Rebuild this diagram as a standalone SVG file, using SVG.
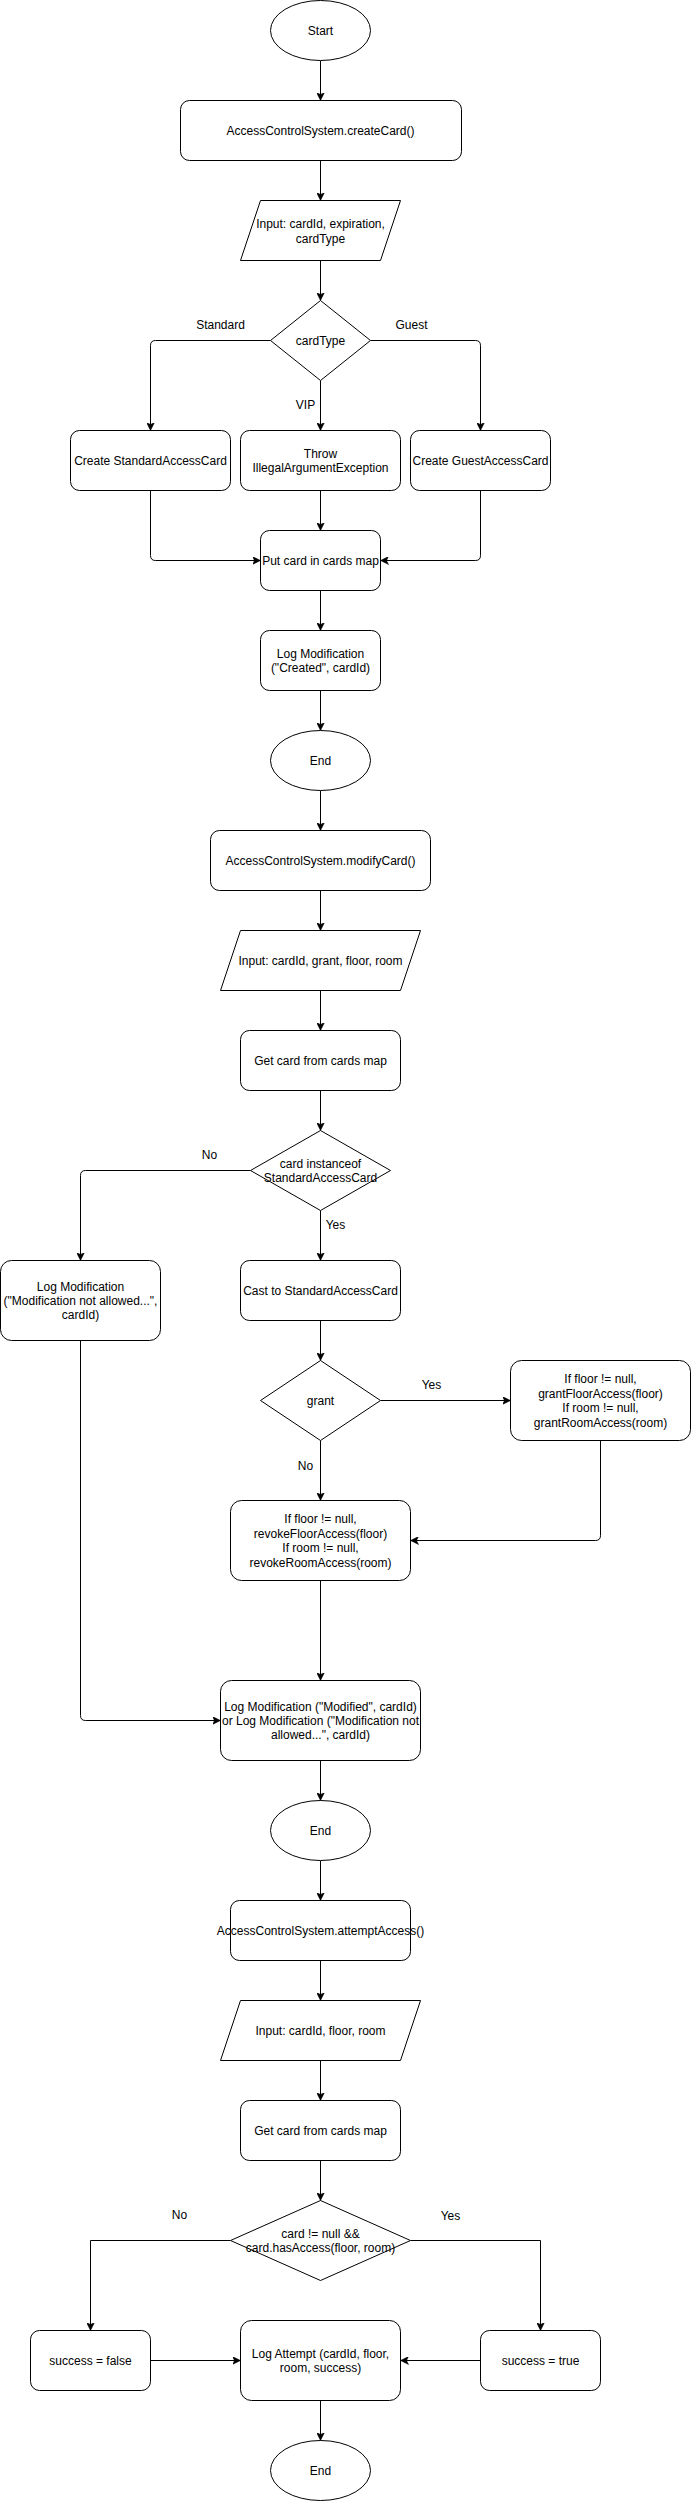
<svg xmlns="http://www.w3.org/2000/svg" width="692" height="2501" viewBox="0 0 692 2501">
<defs>
<style>
.n{fill:#fff;stroke:#000;stroke-width:1}
.e{fill:none;stroke:#000;stroke-width:1;marker-end:url(#arr)}
text{font-family:"Liberation Sans",Arial,Helvetica,sans-serif;font-size:12px;fill:#000;text-anchor:middle}
</style>
<marker id="arr" markerUnits="userSpaceOnUse" viewBox="0 0 8 8" refX="8" refY="4" markerWidth="8" markerHeight="8" orient="auto">
<path d="M0,0 L8,4 L0,8 L2,4 Z" fill="#000" stroke="#000" stroke-width="0.5"/>
</marker>
</defs>
<rect x="0" y="0" width="692" height="2501" fill="#fff"/>
<g transform="translate(0.5,0.5)">
<g id="connectors">
<path class="e" d="M320,60 L320,100"/>
<path class="e" d="M320,160 L320,200"/>
<path class="e" d="M320,260 L320,300"/>
<path class="e" d="M270,340 L155,340 Q150,340 150,345 L150,430"/>
<path class="e" d="M320,380 L320,430"/>
<path class="e" d="M370,340 L475,340 Q480,340 480,345 L480,430"/>
<path class="e" d="M150,490 L150,555 Q150,560 155,560 L260,560"/>
<path class="e" d="M320,490 L320,530"/>
<path class="e" d="M480,490 L480,555 Q480,560 475,560 L380,560"/>
<path class="e" d="M320,590 L320,630"/>
<path class="e" d="M320,690 L320,730"/>
<path class="e" d="M320,790 L320,830"/>
<path class="e" d="M320,890 L320,930"/>
<path class="e" d="M320,990 L320,1030"/>
<path class="e" d="M320,1090 L320,1130"/>
<path class="e" d="M250,1170 L85,1170 Q80,1170 80,1175 L80,1260"/>
<path class="e" d="M320,1210 L320,1260"/>
<path class="e" d="M320,1320 L320,1360"/>
<path class="e" d="M380,1400 L510,1400"/>
<path class="e" d="M320,1440 L320,1500"/>
<path class="e" d="M600,1440 L600,1535 Q600,1540 595,1540 L410,1540"/>
<path class="e" d="M320,1580 L320,1680"/>
<path class="e" d="M80,1340 L80,1715 Q80,1720 85,1720 L220,1720"/>
<path class="e" d="M320,1760 L320,1800"/>
<path class="e" d="M320,1860 L320,1900"/>
<path class="e" d="M320,1960 L320,2000"/>
<path class="e" d="M320,2060 L320,2100"/>
<path class="e" d="M320,2160 L320,2200"/>
<path class="e" d="M230,2240 L90,2240 L90,2330"/>
<path class="e" d="M410,2240 L540,2240 L540,2330"/>
<path class="e" d="M150,2360 L240,2360"/>
<path class="e" d="M480,2360 L400,2360"/>
<path class="e" d="M320,2400 L320,2440"/>
<text x="220" y="328">Standard</text>
<text x="411" y="328">Guest</text>
<text x="305" y="408">VIP</text>
<text x="209" y="1158">No</text>
<text x="335" y="1228">Yes</text>
<text x="431" y="1388">Yes</text>
<text x="305" y="1469">No</text>
<text x="179" y="2218">No</text>
<text x="450" y="2219">Yes</text>
</g>
<g id="start"><ellipse class="n" cx="320" cy="30" rx="50" ry="30"/><text x="320" y="34">Start</text></g>
<g id="createCard"><rect class="n" x="180" y="100" width="281" height="60" rx="9"/><text x="320" y="134">AccessControlSystem.createCard()</text></g>
<g id="input1"><path class="n" d="M260,200 L400,200 L380,260 L240,260 Z"/><text x="320" y="227">Input: cardId, expiration,</text><text x="320" y="242">cardType</text></g>
<g id="cardType"><path class="n" d="M320,300 L370,340 L320,380 L270,340 Z"/><text x="320" y="344">cardType</text></g>
<g id="createStandard"><rect class="n" x="70" y="430" width="160" height="60" rx="9"/><text x="150" y="464">Create StandardAccessCard</text></g>
<g id="throw"><rect class="n" x="240" y="430" width="160" height="60" rx="9"/><text x="320" y="457">Throw</text><text x="320" y="471">IllegalArgumentException</text></g>
<g id="createGuest"><rect class="n" x="410" y="430" width="140" height="60" rx="9"/><text x="480" y="464">Create GuestAccessCard</text></g>
<g id="putCard"><rect class="n" x="260" y="530" width="120" height="60" rx="9"/><text x="320" y="564">Put card in cards map</text></g>
<g id="logCreated"><rect class="n" x="260" y="630" width="120" height="60" rx="9"/><text x="320" y="657">Log Modification</text><text x="320" y="671">("Created", cardId)</text></g>
<g id="end1"><ellipse class="n" cx="320" cy="760" rx="50" ry="30"/><text x="320" y="764">End</text></g>
<g id="modifyCard"><rect class="n" x="210" y="830" width="220" height="60" rx="9"/><text x="320" y="864">AccessControlSystem.modifyCard()</text></g>
<g id="input2"><path class="n" d="M240,930 L420,930 L400,990 L220,990 Z"/><text x="320" y="964">Input: cardId, grant, floor, room</text></g>
<g id="getCard1"><rect class="n" x="240" y="1030" width="160" height="60" rx="9"/><text x="320" y="1064">Get card from cards map</text></g>
<g id="instanceofCheck"><path class="n" d="M320,1130 L390,1170 L320,1210 L250,1170 Z"/><text x="320" y="1167">card instanceof</text><text x="320" y="1181">StandardAccessCard</text></g>
<g id="logNotAllowed"><rect class="n" x="0" y="1260" width="160" height="80" rx="11"/><text x="80" y="1290">Log Modification</text><text x="80" y="1304">("Modification not allowed...",</text><text x="80" y="1318">cardId)</text></g>
<g id="cast"><rect class="n" x="240" y="1260" width="160" height="60" rx="9"/><text x="320" y="1294">Cast to StandardAccessCard</text></g>
<g id="grant"><path class="n" d="M320,1360 L380,1400 L320,1440 L260,1400 Z"/><text x="320" y="1404">grant</text></g>
<g id="grantAccess"><rect class="n" x="510" y="1360" width="180" height="80" rx="11"/><text x="600" y="1382">If floor != null,</text><text x="600" y="1397">grantFloorAccess(floor)</text><text x="600" y="1411">If room != null,</text><text x="600" y="1426">grantRoomAccess(room)</text></g>
<g id="revokeAccess"><rect class="n" x="230" y="1500" width="180" height="80" rx="11"/><text x="320" y="1522">If floor != null,</text><text x="320" y="1537">revokeFloorAccess(floor)</text><text x="320" y="1551">If room != null,</text><text x="320" y="1566">revokeRoomAccess(room)</text></g>
<g id="logModified"><rect class="n" x="220" y="1680" width="200" height="80" rx="11"/><text x="320" y="1710">Log Modification ("Modified", cardId)</text><text x="320" y="1724">or Log Modification ("Modification not</text><text x="320" y="1738">allowed...", cardId)</text></g>
<g id="end2"><ellipse class="n" cx="320" cy="1830" rx="50" ry="30"/><text x="320" y="1834">End</text></g>
<g id="attemptAccess"><rect class="n" x="230" y="1900" width="180" height="60" rx="9"/><text x="320" y="1934">AccessControlSystem.attemptAccess()</text></g>
<g id="input3"><path class="n" d="M240,2000 L420,2000 L400,2060 L220,2060 Z"/><text x="320" y="2034">Input: cardId, floor, room</text></g>
<g id="getCard2"><rect class="n" x="240" y="2100" width="160" height="60" rx="9"/><text x="320" y="2134">Get card from cards map</text></g>
<g id="accessCheck"><path class="n" d="M320,2200 L410,2240 L320,2280 L230,2240 Z"/><text x="320" y="2237">card != null &amp;&amp;</text><text x="320" y="2251">card.hasAccess(floor, room)</text></g>
<g id="successFalse"><rect class="n" x="30" y="2330" width="120" height="60" rx="9"/><text x="90" y="2364">success = false</text></g>
<g id="logAttempt"><rect class="n" x="240" y="2320" width="160" height="80" rx="11"/><text x="320" y="2357">Log Attempt (cardId, floor,</text><text x="320" y="2371">room, success)</text></g>
<g id="successTrue"><rect class="n" x="480" y="2330" width="120" height="60" rx="9"/><text x="540" y="2364">success = true</text></g>
<g id="end3"><ellipse class="n" cx="320" cy="2470" rx="50" ry="30"/><text x="320" y="2474">End</text></g>
</g>
</svg>
